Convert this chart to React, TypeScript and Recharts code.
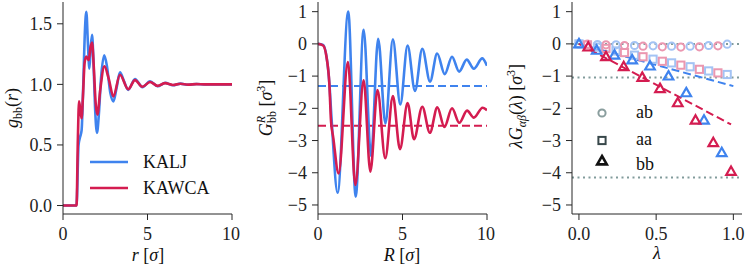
import React from "react";
import {
  LineChart,
  ComposedChart,
  Line,
  Scatter,
  XAxis,
  YAxis,
  ReferenceLine,
} from "recharts";

const FONT = "Liberation Serif";
const BLUE = "#3f83ee";
const RED = "#d41c50";
const LIGHT_BLUE = "#a3c3f4";
const PINK = "#eb97b0";
const DOT_GREY = "#819b9b";
const AXIS = "#262626";

// left panel: g_bb(r)
const rKALJ = [0, 0.8, 0.92, 1.0, 1.1, 1.2, 1.3, 1.38, 1.47, 1.56, 1.64, 1.72, 1.8, 1.9, 2.01, 2.12, 2.25, 2.44, 2.6, 2.8, 2.98, 3.17, 3.37, 3.6, 3.86, 4.26, 4.7, 5.15, 5.6, 6.05, 6.5, 6.95, 7.4, 7.9, 8.4, 10];
const gKALJ = [0, 0, 0.5, 0.56, 0.62, 1.0, 1.45, 1.6, 1.35, 1.13, 1.3, 1.41, 1.2, 0.8, 0.6, 0.75, 1.05, 1.24, 1.15, 0.93, 0.86, 0.97, 1.1, 1.03, 0.955, 1.045, 0.977, 1.025, 0.985, 1.012, 0.993, 1.006, 0.997, 1.003, 1.0, 1.0];
const rKAWCA = [0, 0.8, 0.88, 0.95, 1.03, 1.1, 1.18, 1.28, 1.38, 1.52, 1.62, 1.72, 1.82, 1.93, 2.04, 2.2, 2.45, 2.7, 2.98, 3.37, 3.86, 4.26, 4.7, 5.15, 5.6, 6.05, 6.5, 6.95, 7.4, 7.9, 8.4, 10];
const gKAWCA = [0, 0, 0.55, 0.86, 0.78, 0.72, 0.9, 1.18, 1.23, 1.2, 1.3, 1.345, 1.15, 0.85, 0.75, 0.95, 1.15, 1.05, 0.9, 1.08, 0.96, 1.035, 0.98, 1.02, 0.988, 1.01, 0.995, 1.005, 0.998, 1.002, 1.0, 1.0];

// middle panel: G^R_bb(R)
const RKALJ = [0, 0.3, 0.5, 0.67, 0.8, 1.16, 1.79, 2.23, 2.7, 3.14, 3.56, 3.99, 4.43, 4.87, 5.3, 5.74, 6.17, 6.63, 7.05, 7.5, 7.93, 8.35, 8.8, 9.22, 9.72, 10];
const GKALJ = [0, -0.03, -0.38, -1.2, -2.3, -4.62, 1.0, -4.74, 0.44, -3.48, 0.16, -2.47, 0.14, -1.88, -0.05, -1.46, -0.15, -1.17, -0.3, -0.94, -0.4, -0.86, -0.49, -0.77, -0.45, -0.68];
const RKAWCA = [0, 0.3, 0.5, 0.67, 0.77, 0.9, 1.22, 1.77, 2.21, 2.7, 3.1, 3.52, 3.98, 4.43, 4.85, 5.3, 5.68, 6.17, 6.62, 7.06, 7.48, 7.93, 8.36, 8.82, 9.22, 9.74, 10];
const GKAWCA = [0, -0.05, -0.4, -1.23, -2.4, -2.9, -4.02, -0.56, -4.38, -1.13, -3.97, -1.43, -3.55, -1.62, -3.27, -1.84, -2.96, -1.95, -2.76, -1.97, -2.58, -2.0, -2.45, -2.07, -2.29, -1.98, -2.06];
const GINF_KALJ = -1.31;
const GINF_KAWCA = -2.54;

// right panel: lambda G_ab(lambda)
const lamKALJ = [0, 0.12, 0.24, 0.36, 0.48, 0.6, 0.72, 0.84, 0.96];
const lamKAWCA = [0.055, 0.175, 0.295, 0.415, 0.54, 0.66, 0.78, 0.9];
const abKALJ = [0, -0.02, -0.03, -0.05, -0.06, -0.07, -0.07, -0.05, -0.01];
const abKAWCA = [-0.01, -0.03, -0.05, -0.07, -0.09, -0.1, -0.09, -0.06];
const aaKALJ = [0, -0.1, -0.22, -0.35, -0.475, -0.59, -0.71, -0.84, -0.95];
const aaKAWCA = [-0.03, -0.14, -0.27, -0.4, -0.54, -0.66, -0.79, -0.9];
const lamBbKALJ = [0, 0.115, 0.23, 0.345, 0.46, 0.58, 0.695, 0.81, 0.925];
const bbKALJ = [0, -0.2, -0.35, -0.5, -0.69, -1.0, -1.52, -2.37, -3.38];
const lamBbKAWCA = [0.06, 0.175, 0.29, 0.41, 0.525, 0.64, 0.755, 0.87, 0.985];
const bbKAWCA = [-0.1, -0.4, -0.71, -1.04, -1.39, -1.83, -2.37, -3.07, -3.96];
const lamFit = [0, 1];
const fitKALJ = [0, -1.31];
const lamFitKAWCA = [0, 0.985];
const fitKAWCA = [0, -2.5];
const dottedLevels = [0, -1.04, -4.15];

const zip = (xs: number[], ys: number[]) => xs.map((x, i) => ({ x, y: ys[i] }));

const tickStyle = { fontFamily: FONT, fontSize: 18, fill: "#222" };
const minus = (v: number) => String(v).replace("-", "\u2212");
const oneDec = (v: number) => v.toFixed(1);

const frameAxes = (xd: number[], yd: number[]) => [
  <XAxis key="xt" xAxisId="t" orientation="top" type="number" domain={xd} height={0} tick={false} tickLine={false} axisLine={{ stroke: AXIS }} />,
  <YAxis key="yr" yAxisId="r" orientation="right" type="number" domain={yd} width={0} tick={false} tickLine={false} axisLine={{ stroke: AXIS }} />,
];

const Circle = (c: string) => (p: any) => (
  <circle cx={p.cx} cy={p.cy} r={3.6} fill="none" stroke={c} strokeWidth={2} />
);
const Square = (c: string) => (p: any) => (
  <rect x={p.cx - 3.6} y={p.cy - 3.6} width={7.2} height={7.2} fill="none" stroke={c} strokeWidth={2} />
);
const Tri = (c: string) => (p: any) => (
  <path d={`M${p.cx},${p.cy - 5}L${p.cx + 4.8},${p.cy + 3.4}L${p.cx - 4.8},${p.cy + 3.4}Z`} fill="none" stroke={c} strokeWidth={2.2} />
);

function Overlay() {
  const t = { fontFamily: FONT, fontSize: 18, fill: "#111" };
  return (
    <svg width={746} height={270} style={{ position: "absolute", left: 0, top: 0, pointerEvents: "none" }}>
      {/* axis titles */}
      <text {...t} x={148} y={261} textAnchor="middle">
        <tspan fontStyle="italic">r</tspan> [<tspan fontStyle="italic">σ</tspan>]
      </text>
      <text {...t} x={402} y={261} textAnchor="middle">
        <tspan fontStyle="italic">R</tspan> [<tspan fontStyle="italic">σ</tspan>]
      </text>
      <text {...t} x={657} y={259} textAnchor="middle" fontStyle="italic">λ</text>
      <text {...t} transform="translate(18,108) rotate(-90)" textAnchor="middle">
        <tspan fontStyle="italic">g</tspan>
        <tspan fontSize={12} dy={4}>bb</tspan>
        <tspan dy={-4}>(</tspan>
        <tspan fontStyle="italic">r</tspan>)
      </text>
      <text {...t} transform="translate(272,108) rotate(-90)" textAnchor="middle">
        <tspan fontStyle="italic">G</tspan>
        <tspan fontSize={12} fontStyle="italic" dy={-7}>R</tspan>
        <tspan fontSize={12} dx={-7} dy={11}>bb</tspan>
        <tspan dy={-4}> [</tspan>
        <tspan fontStyle="italic">σ</tspan>
        <tspan fontSize={12} dy={-7}>3</tspan>
        <tspan dy={7}>]</tspan>
      </text>
      <text {...t} transform="translate(522,106) rotate(-90)" textAnchor="middle">
        <tspan fontStyle="italic">λG</tspan>
        <tspan fontSize={12} fontStyle="italic" dy={4}>αβ</tspan>
        <tspan dy={-4}>(</tspan>
        <tspan fontStyle="italic">λ</tspan>) [<tspan fontStyle="italic">σ</tspan>
        <tspan fontSize={12} dy={-7}>3</tspan>
        <tspan dy={7}>]</tspan>
      </text>

      {/* left legend */}
      <line x1={90} x2={128} y1={162} y2={162} stroke={BLUE} strokeWidth={2.6} />
      <line x1={90} x2={128} y1={188} y2={188} stroke={RED} strokeWidth={2.6} />
      <text {...t} x={143} y={168}>KALJ</text>
      <text {...t} x={143} y={194}>KAWCA</text>

      {/* right legend */}
      <circle cx={602} cy={113} r={3.6} fill="none" stroke="#8a9e9e" strokeWidth={2} />
      <rect x={598.4} y={136.9} width={7.2} height={7.2} fill="none" stroke="#37474a" strokeWidth={2} />
      <path d="M602,156L606.8,164.4L597.2,164.4Z" fill="none" stroke="#111" strokeWidth={2.6} />
      <text {...t} x={636} y={118}>ab</text>
      <text {...t} x={636} y={145}>aa</text>
      <text {...t} x={636} y={170}>bb</text>
    </svg>
  );
}

export default function App() {
  const yDom2 = [-5.28, 1.3];
  return (
    <div style={{ position: "absolute", left: 0, top: 0, width: 746, height: 270, background: "#fff", fontFamily: FONT }}>
      <div style={{ position: "absolute", left: 0, top: 0 }}>
        <LineChart width={240} height={270} margin={{ top: 2, right: 8, bottom: 0, left: 0 }}>
          <XAxis type="number" dataKey="x" domain={[0, 10]} ticks={[0, 5, 10]} allowDataOverflow tickSize={6} tickMargin={7} height={56} tick={tickStyle} axisLine={{ stroke: AXIS }} tickLine={{ stroke: AXIS }} />
          <YAxis type="number" dataKey="y" domain={[-0.07, 1.68]} ticks={[0, 0.5, 1, 1.5]} allowDataOverflow tickSize={6} tickMargin={5} width={63} tick={tickStyle} tickFormatter={oneDec} axisLine={{ stroke: AXIS }} tickLine={{ stroke: AXIS }} />
          {frameAxes([0, 10], [-0.07, 1.68])}
          <Line data={zip(rKALJ, gKALJ)} dataKey="y" type="monotone" dot={false} stroke={BLUE} strokeWidth={2.6} isAnimationActive={false} />
          <Line data={zip(rKAWCA, gKAWCA)} dataKey="y" type="monotone" dot={false} stroke={RED} strokeWidth={2.6} isAnimationActive={false} />
        </LineChart>
      </div>

      <div style={{ position: "absolute", left: 250, top: 0 }}>
        <LineChart width={245} height={270} margin={{ top: 2, right: 8, bottom: 0, left: 0 }}>
          <XAxis type="number" dataKey="x" domain={[0, 10]} ticks={[0, 5, 10]} allowDataOverflow tickSize={6} tickMargin={7} height={56} tick={tickStyle} axisLine={{ stroke: AXIS }} tickLine={{ stroke: AXIS }} />
          <YAxis type="number" dataKey="y" domain={yDom2} ticks={[-5, -4, -3, -2, -1, 0, 1]} allowDataOverflow tickSize={6} tickMargin={5} width={68} tick={tickStyle} tickFormatter={minus} axisLine={{ stroke: AXIS }} tickLine={{ stroke: AXIS }} />
          {frameAxes([0, 10], yDom2)}
          <ReferenceLine y={GINF_KALJ} stroke={BLUE} strokeWidth={2} strokeDasharray="8 4" />
          <ReferenceLine y={GINF_KAWCA} stroke={RED} strokeWidth={2} strokeDasharray="8 4" />
          <Line data={zip(RKALJ, GKALJ)} dataKey="y" type="monotone" dot={false} stroke={BLUE} strokeWidth={2.6} isAnimationActive={false} />
          <Line data={zip(RKAWCA, GKAWCA)} dataKey="y" type="monotone" dot={false} stroke={RED} strokeWidth={2.6} isAnimationActive={false} />
        </LineChart>
      </div>

      <div style={{ position: "absolute", left: 504, top: 0 }}>
        <ComposedChart width={242} height={270} margin={{ top: 2, right: 4, bottom: 0, left: 0 }}>
          <XAxis type="number" dataKey="x" domain={[-0.045, 1.056]} ticks={[0, 0.5, 1]} allowDataOverflow tickSize={6} tickMargin={7} height={56} tick={tickStyle} tickFormatter={oneDec} axisLine={{ stroke: AXIS }} tickLine={{ stroke: AXIS }} />
          <YAxis type="number" dataKey="y" domain={yDom2} ticks={[-5, -4, -3, -2, -1, 0, 1]} allowDataOverflow tickSize={6} tickMargin={5} width={68} tick={tickStyle} tickFormatter={minus} axisLine={{ stroke: AXIS }} tickLine={{ stroke: AXIS }} />
          {frameAxes([-0.045, 1.056], yDom2)}
          {dottedLevels.map((v) => (
            <ReferenceLine key={v} y={v} stroke={DOT_GREY} strokeWidth={2} strokeDasharray="2 3.5" />
          ))}
          <Scatter data={zip(lamKALJ, abKALJ)} shape={Circle(LIGHT_BLUE)} isAnimationActive={false} />
          <Scatter data={zip(lamKAWCA, abKAWCA)} shape={Circle(PINK)} isAnimationActive={false} />
          <Scatter data={zip(lamKALJ, aaKALJ)} shape={Square(LIGHT_BLUE)} isAnimationActive={false} />
          <Scatter data={zip(lamKAWCA, aaKAWCA)} shape={Square(PINK)} isAnimationActive={false} />
          <Line data={zip(lamFit, fitKALJ)} dataKey="y" type="linear" dot={false} stroke={BLUE} strokeWidth={2} strokeDasharray="8 4" isAnimationActive={false} />
          <Line data={zip(lamFitKAWCA, fitKAWCA)} dataKey="y" type="linear" dot={false} stroke={RED} strokeWidth={2} strokeDasharray="8 4" isAnimationActive={false} />
          <Scatter data={zip(lamBbKALJ, bbKALJ)} shape={Tri(BLUE)} isAnimationActive={false} />
          <Scatter data={zip(lamBbKAWCA, bbKAWCA)} shape={Tri(RED)} isAnimationActive={false} />
        </ComposedChart>
      </div>

      <Overlay />
    </div>
  );
}
